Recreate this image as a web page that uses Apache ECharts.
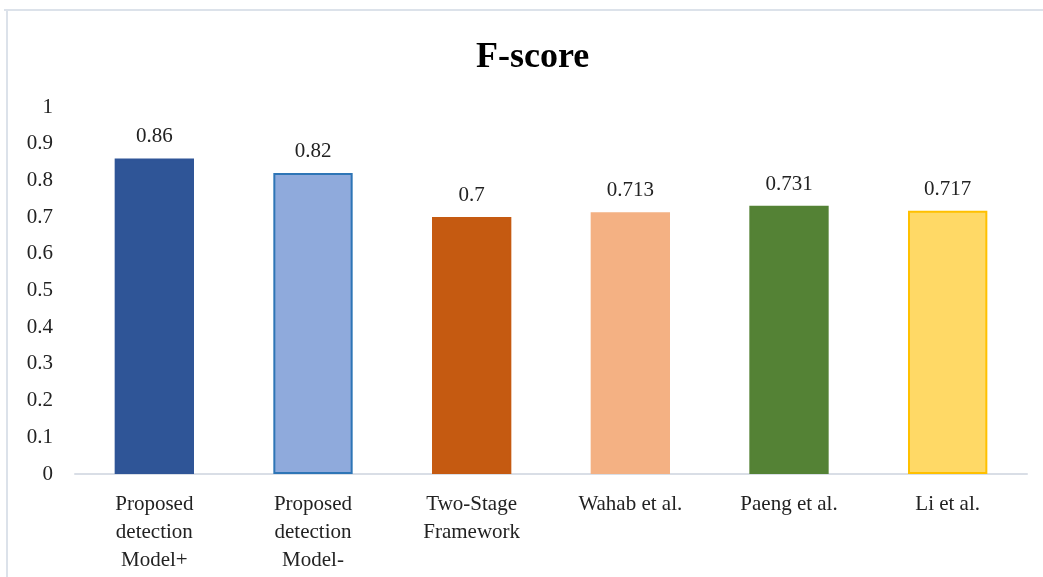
<!DOCTYPE html>
<html>
<head>
<meta charset="utf-8">
<script src="https://cdn.jsdelivr.net/npm/echarts@6/dist/echarts.min.js"></script>
<style>html,body{margin:0;padding:0;background:#fff}#c{width:1043px;height:577px}</style>
</head>
<body>
<div id="c"></div>
<script>
const categories = ['Proposed\ndetection\nModel+', 'Proposed\ndetection\nModel-', 'Two-Stage\nFramework', 'Wahab et al.', 'Paeng et al.', 'Li et al.'];
const values = [0.86, 0.82, 0.7, 0.713, 0.731, 0.717];
const valueLabels = ['0.86', '0.82', '0.7', '0.713', '0.731', '0.717'];
const fillColors = ['#2F5597', '#8FAADC', '#C55A11', '#F4B183', '#548235', '#FFD966'];
const borderColors = ['#2F5597', '#2E75B6', '#C55A11', '#F4B183', '#548235', '#FFC000'];
const yTicks = [0, 0.1, 0.2, 0.3, 0.4, 0.5, 0.6, 0.7, 0.8, 0.9, 1];

const font = '"Liberation Serif", "Times New Roman", serif';
const chart = echarts.init(document.getElementById('c'));
chart.setOption({
  animation: false,
  backgroundColor: '#fff',
  title: {
    text: 'F-score', left: 471, top: 35,
    textStyle: { fontFamily: font, fontWeight: 'bold', fontSize: 36, color: '#000' }
  },
  graphic: [
    { type: 'line', shape: { x1: 4, y1: 10, x2: 1043, y2: 10 }, style: { stroke: '#DCE2EA', lineWidth: 2 } },
    { type: 'line', shape: { x1: 7, y1: 10, x2: 7, y2: 577 }, style: { stroke: '#DCE2EA', lineWidth: 2 } }
  ],
  grid: { left: 75, right: 16, top: 107, bottom: 103, containLabel: false },
  xAxis: {
    type: 'category', data: categories,
    axisLine: { show: true, lineStyle: { color: '#D9DEE6', width: 2 } },
    axisTick: { show: false },
    axisLabel: { interval: 0, fontFamily: font, fontSize: 21, color: '#222', lineHeight: 28, margin: 16 }
  },
  yAxis: {
    type: 'value', min: 0, max: 1, interval: 0.1,
    axisLine: { show: false }, axisTick: { show: false },
    splitLine: { show: false },
    axisLabel: { fontFamily: font, fontSize: 21, color: '#222', margin: 22,
      formatter: v => { const t = yTicks.find(x => Math.abs(x - v) < 1e-9); return t === undefined ? '' : String(t); } }
  },
  series: [{
    type: 'bar', barWidth: '50%',
    data: values.map((v, i) => ({ value: v, itemStyle: { color: fillColors[i], borderColor: borderColors[i], borderWidth: 2 } })),
    label: { show: true, position: 'top', distance: 11, fontFamily: font, fontSize: 21, color: '#222',
      formatter: p => valueLabels[p.dataIndex] }
  }]
});
</script>
</body>
</html>
